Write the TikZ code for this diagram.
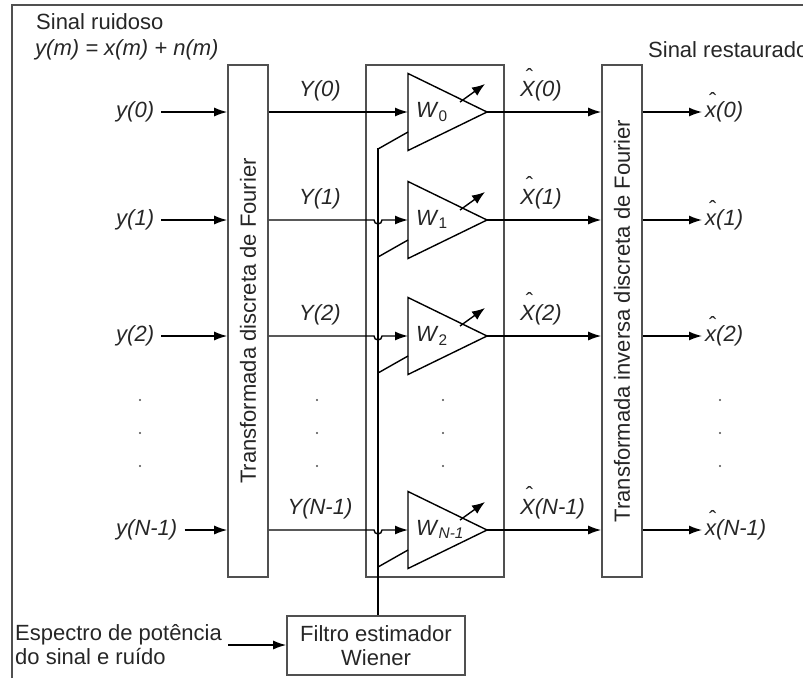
\documentclass[tikz,border=0pt]{standalone}
\usepackage{fontspec}
\setmainfont{Liberation Sans}
\usetikzlibrary{arrows.meta,positioning,calc}
\definecolor{wienergray}{RGB}{80,80,80}
\newcommand{\chapeu}[2][0.55em]{\leavevmode\ooalign{#2\cr\hidewidth\raisebox{#1}{\upshape\hspace{0.18em}\char"02C6}\hidewidth\cr}}

\begin{document}
\begin{tikzpicture}[x=1pt,y=-1pt,
    every node/.style={font=\fontsize{22}{24}\selectfont,text=black!85,inner sep=0pt},
    bloco/.style={draw=wienergray,line width=1.6pt},
    etiqueta/.style={text height=15pt,text depth=4pt},
    fio/.style={line width=1.4pt},
    seta/.style={line width=1.4pt,-{Latex[length=13pt,width=9pt]}},
    ajuste/.style={line width=1.4pt,-{Latex[length=13pt,width=10pt]}}]
  \useasboundingbox (0,0) rectangle (803,678);
  \clip (0,0) rectangle (803,678);
  \draw[wienergray,line width=2pt] (12,678) -- (12,5) -- (803,5);

  % textos de topo
  \node[anchor=west] (ruido) at (36,22) {Sinal ruidoso};
  \node[anchor=west] (soma) at (35,50) {\textit{y(m) = x(m) + n(m)}};
  \node[anchor=west] (restaurado) at (648,50) {Sinal restaurado};

  % blocos
  \node[bloco,minimum width=40pt,minimum height=512pt] (tdf) at (248,321) {\rotatebox{90}{Transformada discreta de Fourier}};
  \node[bloco,minimum width=138pt,minimum height=512pt] (banco) at (435,321) {};
  \node[bloco,minimum width=40pt,minimum height=512pt] (tidf) at (622,321) {\rotatebox{90}{Transformada inversa discreta de Fourier}};
  \node[bloco,minimum width=178pt,minimum height=59pt,align=center] (wiener) at (376,645.5) {Filtro estimador\\Wiener};

  % linhas de frequencia
  \foreach \r/\k/\s/\w in {112/0/0/0, 220/1/1/1, 336/2/2/2, 530/3/N-1/\textit{N-1}} {
    \coordinate (e\k) at (408,\r);
    \coordinate (p\k) at (487,\r);
    \node[etiqueta,anchor=west] (y\k) at (116,\r) {\textit{y(\s)}};
    \draw[seta] ([xshift=7pt]y\k.east) -- (tdf.west |- e\k);
    \node[etiqueta] (Y\k) at (320,\r-21) {\textit{Y(\s)}};
    \ifnum\k=0
      \draw[seta] (tdf.east |- e\k) -- (e\k);
    \else
      \draw[seta] (tdf.east |- e\k) -- (374,\r) arc[start angle=180,end angle=0,radius=4] -- (e\k);
    \fi
    \draw[fio] ([yshift=38.5pt]e\k) -- (p\k) -- ([yshift=-38.5pt]e\k) -- cycle;
    \node[etiqueta,anchor=west] (w\k) at (416,\r) {\textit{W}\textsubscript{\w}};
    \draw[ajuste] (460,\r-10) -- (485,\r-28);
    \draw[fio] (378,\r+37) -- (408,\r+20);
    \node[etiqueta,anchor=west] (X\k) at (520,\r-21) {\textit{\chapeu{X}(\s)}};
    \draw[seta] (p\k) -- (tidf.west |- p\k);
    \node[etiqueta,anchor=west] (x\k) at (705,\r) {\textit{\chapeu[0.4em]{x}(\s)}};
    \draw[seta] (tidf.east |- p\k) -- ([xshift=-3pt]x\k.west);
  }

  % barramento do estimador
  \coordinate (barra) at (378,148);
  \draw[fio] (wiener.north -| barra) -- (barra);

  % reticencias
  \foreach \x in {140,317,443,720}
    \foreach \d in {400,433,466}
      \fill[black!70] (\x,\d) circle (1.2pt);

  % entrada do estimador
  \node[anchor=west,align=left] (espectro) at (15,645) {Espectro de potência\\do sinal e ruído};
  \draw[seta] ([xshift=6pt]espectro.east) -- (wiener.west |- espectro.east);
\end{tikzpicture}
\end{document}
